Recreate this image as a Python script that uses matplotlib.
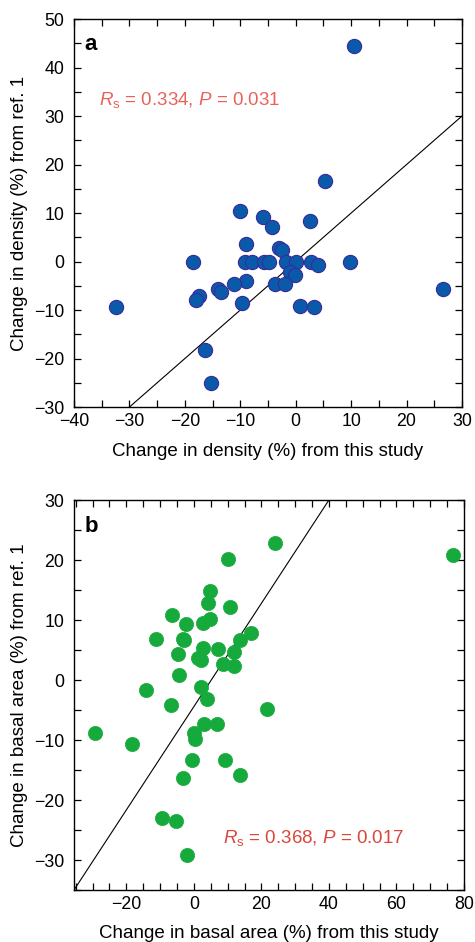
import matplotlib

matplotlib.use("Agg", force=True)
import matplotlib.pyplot as plt
from matplotlib.ticker import MultipleLocator

plt.rcParams["font.family"] = ["Liberation Sans", "DejaVu Sans"]
plt.rcParams["axes.unicode_minus"] = True
plt.rcParams["mathtext.fontset"] = "custom"
plt.rcParams["mathtext.rm"] = "Liberation Sans"
plt.rcParams["mathtext.it"] = "Liberation Sans:italic"

# Panel a: change in density
density_this_study = [
    10.5, 5.2, -10.1, -5.9, -4.3, 2.5, -9.0, -3.0, -2.5, -18.6, -9.1, -7.8,
    -5.8, -4.8, -1.7, 0.0, 2.8, 4.1, 9.8, -1.1, -0.1, -8.9, -11.1, -3.7,
    -1.9, -14.0, -13.5, -17.4, -17.9, -9.6, 0.8, 3.3, -32.4, 26.5, -16.3, -15.3,
]
density_ref1 = [
    44.5, 16.6, 10.5, 9.1, 7.1, 8.3, 3.7, 2.7, 2.3, 0.0, 0.0, 0.0,
    0.0, 0.0, 0.0, 0.0, 0.0, -0.7, 0.0, -2.1, -2.7, -4.1, -4.6, -4.6,
    -4.7, -5.6, -6.3, -7.1, -8.0, -8.6, -9.1, -9.4, -9.4, -5.6, -18.2, -25.0,
]
density_line_x = [-30, 30]
density_line_y = [-30, 30]

# Panel b: change in basal area
basal_this_study = [
    24.0, 76.8, 10.0, 4.8, 4.3, 10.7, -6.6, 4.8, 2.7, -2.4, 17.0, -11.1,
    -3.2, -2.9, 13.6, 2.6, 7.0, -4.7, 11.9, 1.2, 2.0, 8.7, 12.0, -4.5,
    -14.2, 2.0, 3.9, -6.9, 21.8, 2.9, 6.8, -29.4, 0.1, 0.2, -18.2, -0.6,
    9.2, -3.1, 13.7, -9.5, -5.3, -2.1,
]
basal_ref1 = [
    22.9, 20.8, 20.1, 14.8, 12.8, 12.1, 10.9, 10.2, 9.5, 9.3, 7.9, 6.8,
    6.9, 6.6, 6.7, 5.3, 5.2, 4.4, 4.7, 3.7, 3.4, 2.7, 2.4, 0.8,
    -1.7, -1.1, -3.1, -4.1, -4.8, -7.4, -7.4, -8.8, -8.9, -9.9, -10.6, -13.3,
    -13.3, -16.4, -15.9, -23.0, -23.5, -29.2,
]
basal_line_x = [-35.5, 40]
basal_line_y = [-35, 30]

fig = plt.figure(figsize=(4.75, 9.42), dpi=100)
ax_a = fig.add_axes([0.1558, 0.5679, 0.8168, 0.4119])
ax_b = fig.add_axes([0.1558, 0.0552, 0.8210, 0.4140])


def style_axis(ax, x_major, x_minor, y_major, y_minor):
    ax.xaxis.set_major_locator(MultipleLocator(x_major))
    ax.xaxis.set_minor_locator(MultipleLocator(x_minor))
    ax.yaxis.set_major_locator(MultipleLocator(y_major))
    ax.yaxis.set_minor_locator(MultipleLocator(y_minor))
    ax.tick_params(which="both", direction="in", top=True, right=True,
                   length=5, width=0.9, labelsize=12.8)
    ax.tick_params(axis="x", pad=4)
    ax.tick_params(axis="y", pad=7)
    for spine in ax.spines.values():
        spine.set_linewidth(1.0)


stat_a = r"$R_\mathrm{s}$ = 0.334, $P$ = 0.031"
stat_b = r"$R_\mathrm{s}$ = 0.368, $P$ = 0.017"

# Figure a
ax_a.plot(density_line_x, density_line_y, color="black", lw=0.8, zorder=1)
ax_a.scatter(density_this_study, density_ref1, s=105, color="#0a5aaa",
             edgecolor="#3b2a9c", linewidth=0.8, zorder=2)
ax_a.set_xlim(-40, 30)
ax_a.set_ylim(-30, 50)
style_axis(ax_a, 10, 5, 10, 5)
ax_a.set_xlabel("Change in density (%) from this study", fontsize=13.5, labelpad=10)
ax_a.set_ylabel("Change in density (%) from ref. 1", fontsize=13.5, labelpad=4)
ax_a.text(0.028, 0.962, "a", transform=ax_a.transAxes, fontsize=16,
          fontweight="bold", va="top", ha="left")
ax_a.text(-35.5, 33.3, stat_a, color="#e8625c", fontsize=13.5,
          va="center", ha="left")

# Figure b
ax_b.plot(basal_line_x, basal_line_y, color="black", lw=0.8, zorder=1)
ax_b.scatter(basal_this_study, basal_ref1, s=105, color="#16aa3c",
             edgecolor="#16aa3c", linewidth=0.5, zorder=2)
ax_b.set_xlim(-35.5, 80)
ax_b.set_ylim(-35, 30)
style_axis(ax_b, 20, 5, 10, 5)
ax_b.set_xlabel("Change in basal area (%) from this study", fontsize=13.5, labelpad=9)
ax_b.set_ylabel("Change in basal area (%) from ref. 1", fontsize=13.5, labelpad=4)
ax_b.text(0.028, 0.958, "b", transform=ax_b.transAxes, fontsize=16,
          fontweight="bold", va="top", ha="left")
ax_b.text(8.6, -26.3, stat_b, color="#d9473b", fontsize=13.5,
          va="center", ha="left")

fig.savefig("out.png", dpi=100)
plt.close(fig)
